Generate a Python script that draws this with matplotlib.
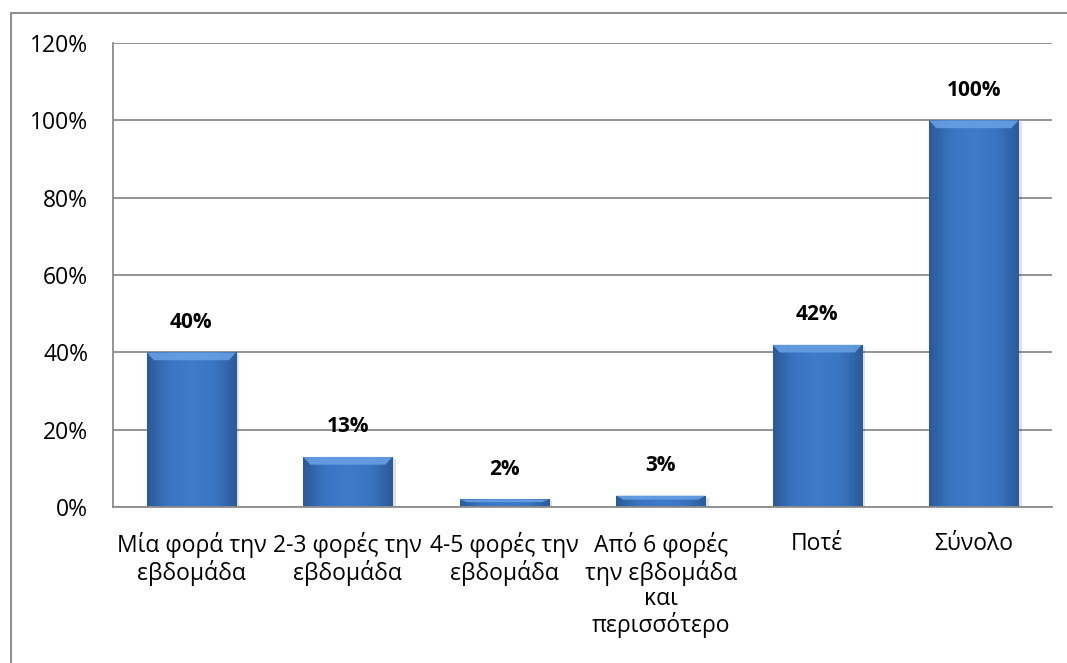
#!/usr/bin/env python3

import matplotlib

matplotlib.use("Agg")

import matplotlib.pyplot as plt
import numpy as np
from matplotlib.colors import LinearSegmentedColormap
from matplotlib.patches import Polygon, Rectangle
from matplotlib.ticker import FuncFormatter, MultipleLocator


OUTPUT_FILENAME = "out.png"

categories = [
    "Μία φορά την\nεβδομάδα",
    "2-3 φορές την\nεβδομάδα",
    "4-5 φορές την\nεβδομάδα",
    "Από 6 φορές\nτην εβδομάδα\nκαι\nπερισσότερο",
    "Ποτέ",
    "Σύνολο",
]
shares = [40, 13, 2, 3, 42, 100]

FONT = ["Open Sans", "Noto Sans", "DejaVu Sans"]
GRID_COLOR = "#8c8c8c"

plt.rcParams["font.family"] = FONT

fig = plt.figure(figsize=(10.67, 6.63), dpi=100)
ax = fig.add_axes([0.106, 0.235, 0.880, 0.700])

# outer chart frame, cut by the right and bottom edges of the image
fig.patches.append(
    Rectangle(
        (0.0103, -0.05), 1.05, 1.030,
        transform=fig.transFigure,
        fill=False, edgecolor=GRID_COLOR, linewidth=1.4,
    )
)

x = np.arange(len(categories))
bar_width = 0.57

bars = ax.bar(
    x, shares, width=bar_width,
    color="#3b76c2", edgecolor="none", zorder=2,
)

# horizontal shading: darker along both sides of each bar
shade = LinearSegmentedColormap.from_list(
    "bevel", ["#2b5a98", "#3a75c2", "#3e7bc9", "#3a75c2", "#2b5a98"]
)
gradient = np.linspace(0, 1, 256).reshape(1, -1)

for bar in bars:
    left = bar.get_x()
    width = bar.get_width()
    right = left + width
    top = bar.get_height()

    # soft drop shadow
    ax.add_patch(
        Rectangle(
            (left + 0.02, -0.5), width, top,
            facecolor="#000000", alpha=0.12, edgecolor="none", zorder=1.5,
        )
    )

    image = ax.imshow(
        gradient, cmap=shade, aspect="auto",
        extent=(left, right, 0, top), zorder=2.1,
    )
    image.set_clip_path(bar)

    # bevelled cap along the top edge
    cap = min(2.0, top * 0.35)
    inset = 0.045
    ax.add_patch(
        Polygon(
            [(left, top), (right, top),
             (right - inset, top - cap), (left + inset, top - cap)],
            closed=True, facecolor="#6aa2e6", alpha=0.85,
            edgecolor="none", zorder=2.2,
        )
    )

    ax.text(
        left + width / 2, top + 7.8,
        f"{top:.0f}%",
        ha="center", va="center",
        fontsize=15, fontweight="bold", color="#000000",
    )

ax.set_xlim(-0.5, len(categories) - 0.5)
ax.set_ylim(0, 120)
ax.yaxis.set_major_locator(MultipleLocator(20))
ax.yaxis.set_major_formatter(FuncFormatter(lambda value, _: f"{value:.0f}%"))

ax.grid(axis="y", color=GRID_COLOR, linewidth=1.3, zorder=0)
ax.set_axisbelow(True)

ax.set_xticks(x)
ax.set_xticklabels(categories, fontsize=16.5, linespacing=1.07)
ax.tick_params(axis="y", labelsize=16.5, length=0, pad=18)
ax.tick_params(axis="x", length=0, pad=18)

for side in ("top", "right"):
    ax.spines[side].set_visible(False)
for side in ("left", "bottom"):
    ax.spines[side].set_color(GRID_COLOR)
    ax.spines[side].set_linewidth(1.3)

fig.savefig(OUTPUT_FILENAME, dpi=100, facecolor="white")
plt.close(fig)
